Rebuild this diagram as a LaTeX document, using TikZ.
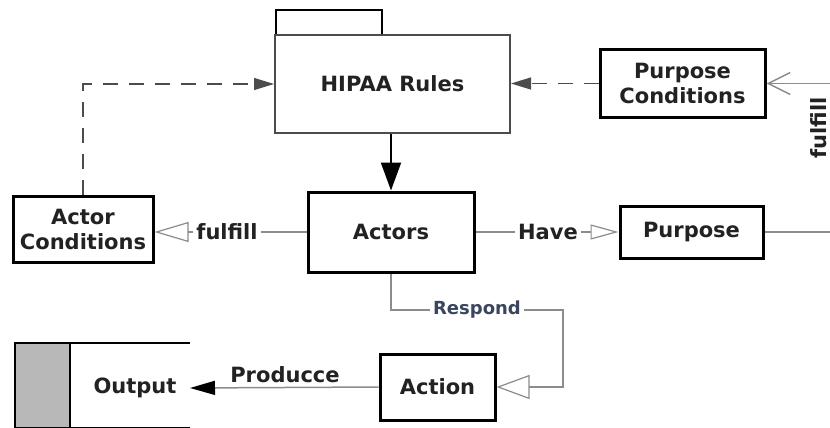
\documentclass[tikz,border=0pt]{standalone}
\usepackage{fontspec}
\setmainfont{DejaVu Sans}
\usetikzlibrary{arrows.meta}

\definecolor{txt}{HTML}{222222}
\definecolor{linegray}{HTML}{8C8C8C}
\definecolor{respondblue}{HTML}{3A4660}

\begin{document}
\begin{tikzpicture}[x=1pt,y=-1pt,
  boxfont/.style={font=\bfseries\fontsize{21}{25}\selectfont, text=txt},
  box/.style={boxfont, draw=black, line width=3pt, rectangle, align=center, inner sep=0pt},
  conn/.style={draw=linegray, line width=1.5pt},
  dashconn/.style={draw=black!70, line width=1.3pt, dash pattern=on 15pt off 11pt},
  lbl/.style={boxfont, fill=white, inner sep=3pt},
  opentri/.style 2 args={-{Triangle[open, length=#1, width=#2, line width=1.2pt, fill=white]}},
  solidtip/.style 2 args={-{Triangle[length=#1, width=#2]}}
]
\fill[white] (0,0) rectangle (830,428);
\useasboundingbox (0,0) rectangle (830,428);

% boxes
\node[box, draw=black!70, line width=2pt, minimum width=235pt, minimum height=98pt] (hipaa) at (392.5,84) {HIPAA Rules};
\node[box, minimum width=165pt, minimum height=67pt] (pcond) at (682.5,83.5) {Purpose\\Conditions};
\node[box, minimum width=166pt, minimum height=80pt] (actors) at (391,232) {Actors};
\node[box, minimum width=140pt, minimum height=66pt] (acond) at (83,229) {Actor\\Conditions};
\node[box, minimum width=143pt, minimum height=52pt] (purpose) at (691.5,232) {Purpose};
\node[box, minimum width=115pt, minimum height=66pt] (action) at (437.5,387) {Action};

% folder tab on top of the rules box
\draw[black, line width=1.5pt] (hipaa.north west) ++(2,0) -- ++(0,-24) -- ++(106,0) -- ++(0,24);

% output store
\fill[black!28] (15,343) rectangle (70,428);
\draw[black, line width=2.5pt] (15,428) -- (15,343) -- (190,343);
\draw[black, line width=2.5pt] (15,428) -- (190,428);
\draw[black, line width=2.5pt] (70,343) -- (70,428);
\node[boxfont] (output) at (135,388) {Output};
\coordinate (outin) at (190,388);

% rules -> actors
\draw[black, line width=2pt, solidtip={28pt}{20pt}] (actors.north |- hipaa.south) -- (actors.north);

% dashed condition links
\draw[dashconn, solidtip={20pt}{12pt}] (acond.north) |- (hipaa.west);
\draw[dashconn, solidtip={20pt}{12pt}] (pcond.west) -- (pcond.west -| hipaa.east);

% actors -> actor conditions
\draw[conn, opentri={34pt}{20pt}] (actors.west) -- (actors.west -| acond.east);
\node[lbl] (fulfillA) at (227,232) {fulfill};

% actors -> purpose
\draw[conn, opentri={28pt}{15pt}] (actors.east) -- (purpose.west);
\node[lbl] (have) at (548,232) {Have};

% links leaving on the right
\coordinate (rtop) at (840,83.5);
\coordinate (rmid) at (840,232);
\draw[conn, -{Straight Barb[length=22pt, width=22pt, line width=1.5pt]}] (rtop) -- (pcond.east);
\draw[conn] (purpose.east) -- (rmid);
\node[boxfont, rotate=90, anchor=south, inner sep=0pt] (fulfillB) at (827,128) {fulfill};

% actors -> action
\coordinate (rbend) at (563,310);
\draw[conn, opentri={33pt}{24pt}] (actors.south) |- (rbend) |- (action.east);
\node[font=\bfseries\fontsize{18}{22}\selectfont, text=respondblue, fill=white, inner sep=3pt] (respond) at (477,310) {Respond};

% action -> output
\draw[conn, -{Triangle[length=25pt, width=14pt, black]}] (action.west) -- (outin);
\node[boxfont] (producce) at (285,375) {Producce};
\end{tikzpicture}
\end{document}
